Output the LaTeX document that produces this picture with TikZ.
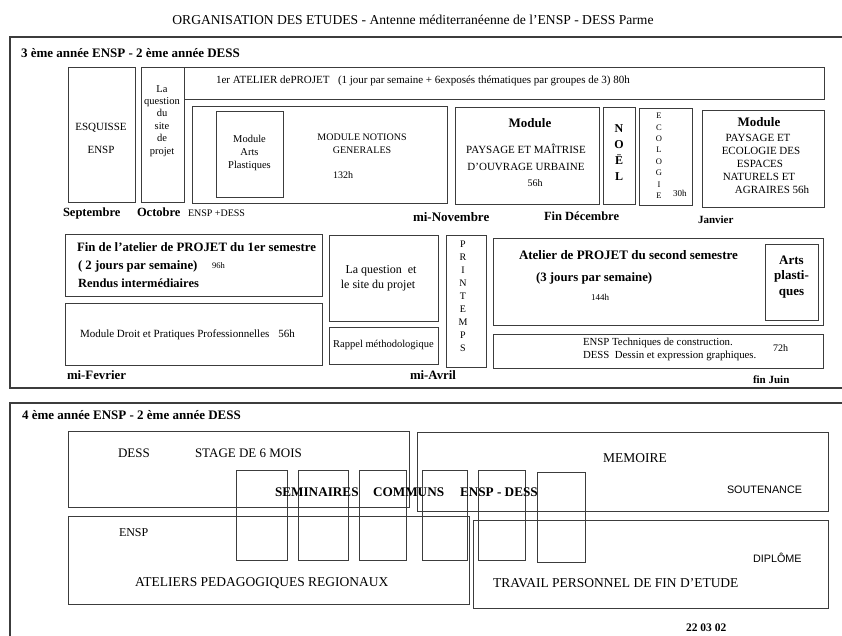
\documentclass[tikz,border=0pt]{standalone}
\usepackage{fontspec}
\setmainfont{Liberation Serif}
\newfontfamily\lsans{Liberation Sans}
\definecolor{linec}{HTML}{3C3C3C}
\newcommand\fsz[1]{\fontsize{#1}{#1}\selectfont}
\tikzset{
  bx/.style={draw=linec, line width=0.85pt, inner sep=0pt, outer sep=0pt},
  framebox/.style={draw=linec, line width=1.9pt, inner sep=0pt, outer sep=0pt},
  lbl/.style={anchor=base west, inner sep=0pt, outer sep=0pt},
  clbl/.style={anchor=base, inner sep=0pt, outer sep=0pt},
}
\newcommand\boxat[6][bx]{\node[#1, minimum width={(#5-#3)*1pt}, minimum height={(#6-#4)*1pt}] (#2) at ({(#3+#5)/2},{(#4+#6)/2}) {};}
\begin{document}
\begin{tikzpicture}[x=1pt,y=-1pt]
\useasboundingbox (0,0) rectangle (842,636);
\clip (0,0) rectangle (842,636);
\fill[white] (0,0) rectangle (842,636);

% title
\node[clbl] (title) at (413,24.5) {\fsz{13.6}ORGANISATION DES ETUDES - Antenne méditerranéenne de l'ENSP - DESS Parme};

% frames
\boxat[framebox]{frameA}{10}{37}{870}{388}
\boxat[framebox]{frameB}{10}{403}{870}{680}

% ---------- frame A
\node[lbl] (hdrA) at (21,57.5) {\fsz{13}\bfseries 3 ème année ENSP - 2 ème année DESS};

\boxat{esq}{68}{67}{135}{202}
\boxat{laq}{141}{67}{184}{202}
\boxat{atel1}{184}{67}{824}{99}
\boxat{notions}{192}{106}{447}{203}
\boxat{artsp}{216}{111}{283}{197}
\boxat{mpau}{455}{107}{599}{204}
\boxat{noel}{603}{107}{635}{204}
\boxat{eco}{639}{108}{692}{205}
\boxat{mpee}{702}{110}{824}{207}

\node[clbl] (esq1) at (101,131) {\fsz{11}ESQUISSE};
\node[clbl] (esq2) at (101,154) {\fsz{11}ENSP};

\foreach \w/\yy [count=\i] in {La/93,question/105,du/117,site/130,de/142,projet/155}
  \node[clbl] (laqt\i) at (162,\yy) {\fsz{10.5}\w};

\node[lbl] (atel1a) at (216,84) {\fsz{11}1er ATELIER dePROJET};
\node[lbl] (atel1b) at (338,84) {\fsz{11}(1 jour par semaine + 6exposés thématiques par groupes de 3) 80h};

\node[clbl] (ap1) at (249.5,143) {\fsz{10.5}Module};
\node[clbl] (ap2) at (249.5,156) {\fsz{10.5}Arts};
\node[clbl] (ap3) at (249.5,169) {\fsz{10.5}Plastiques};

\node[clbl] (mn1) at (362,140.5) {\fsz{10}MODULE NOTIONS};
\node[clbl] (mn2) at (362,153.5) {\fsz{10}GENERALES};
\node[lbl] (mn3) at (333,178.5) {\fsz{10}132h};

\node[clbl] (pm1) at (530,127.5) {\fsz{13}\bfseries Module};
\node[clbl] (pm2) at (526,154) {\fsz{11}PAYSAGE ET MAÎTRISE};
\node[clbl] (pm3) at (526,171) {\fsz{11}D'OUVRAGE URBAINE};
\node[clbl] (pm4) at (535,186.5) {\fsz{10}56h};

\foreach \l/\yy [count=\i] in {N/133,O/149,Ë/165,L/181}
  \node[clbl] (noelt\i) at (619,\yy) {\fsz{12}\bfseries \l};

\foreach \l [count=\i] in {E,C,O,L,O,G,I,E}
  \node[clbl] (ecot\i) at (659,{116+2.8+(\i-1)*11.4}) {\fsz{8.5}\l};
\node[lbl] (eco30) at (673,197) {\fsz{9}30h};

\node[clbl] (pe1) at (759,127) {\fsz{13}\bfseries Module};
\node[clbl] (pe2) at (758,142) {\fsz{11}PAYSAGE ET};
\node[clbl] (pe3) at (761,155) {\fsz{11}ECOLOGIE DES};
\node[clbl] (pe4) at (760,168) {\fsz{11}ESPACES};
\node[clbl] (pe5) at (759,181) {\fsz{11}NATURELS ET};
\node[clbl] (pe6) at (772,194) {\fsz{11}AGRAIRES 56h};

\node[lbl] (sept) at (63,217) {\fsz{12.5}\bfseries Septembre};
\node[lbl] (oct) at (137,217) {\fsz{12.5}\bfseries Octobre};
\node[lbl] (ensdess) at (188,217) {\fsz{10}ENSP +DESS};
\node[lbl] (minov) at (413,222) {\fsz{13}\bfseries mi-Novembre};
\node[lbl] (findec) at (544,221) {\fsz{12.5}\bfseries Fin Décembre};
\node[lbl] (janv) at (698,223) {\fsz{11}\bfseries Janvier};

% row 2
\boxat{fin1}{65}{234}{322}{296}
\boxat{droit}{65}{303}{322}{365}
\boxat{laq2}{329}{235}{438}{321}
\boxat{rappel}{329}{327}{438}{364}
\boxat{print}{446}{235}{486}{367}
\boxat{atel2}{493}{238}{823}{325}
\boxat{arts2}{765}{244}{818}{320}
\boxat{tech}{493}{334}{823}{368}

\node[lbl] (f1a) at (77,251) {\fsz{12.8}\bfseries Fin de l'atelier de PROJET du 1er semestre};
\node[lbl] (f1b) at (78,269) {\fsz{12.8}\bfseries ( 2 jours par semaine)};
\node[lbl] (f1c) at (212,268) {\fsz{8.5}96h};
\node[lbl] (f1d) at (78,287) {\fsz{12.5}\bfseries Rendus intermédiaires};

\node[lbl] (dr) at (80,337) {\fsz{11}Module Droit et Pratiques Professionnelles\hspace{9pt}56h};

\node[clbl] (lq1) at (381,273) {\fsz{12}La question\ \ et};
\node[clbl] (lq2) at (378,288) {\fsz{12}le site du projet};
\node[clbl] (rap) at (383.5,347) {\fsz{10.5}Rappel méthodologique};

\foreach \l [count=\i] in {P,R,I,N,T,E,M,P,S}
  \node[clbl] (prt\i) at (463,{247.5+(\i-1)*13}) {\fsz{10}\l};

\node[lbl] (a2a) at (519,259) {\fsz{13}\bfseries Atelier de PROJET du second semestre};
\node[lbl] (a2b) at (536,281) {\fsz{12.8}\bfseries (3 jours par semaine)};
\node[lbl] (a2c) at (591,300) {\fsz{9}144h};

\node[clbl] (ar1) at (791.5,264) {\fsz{13}\bfseries Arts};
\node[clbl] (ar2) at (791.5,279) {\fsz{13}\bfseries plasti-};
\node[clbl] (ar3) at (791.5,295) {\fsz{13}\bfseries ques};

\node[lbl] (te1) at (583,345) {\fsz{10.8}ENSP Techniques de construction.};
\node[lbl] (te2) at (583,358) {\fsz{10.8}DESS\ \ Dessin et expression graphiques.};
\node[lbl] (te3) at (773,351) {\fsz{10}72h};

\node[lbl] (mifev) at (67,379) {\fsz{12.8}\bfseries mi-Fevrier};
\node[lbl] (miavr) at (410,379) {\fsz{12.8}\bfseries mi-Avril};
\node[lbl] (finjuin) at (753,383) {\fsz{11}\bfseries fin Juin};

% ---------- frame B
\node[lbl] (hdrB) at (22,419) {\fsz{13}\bfseries 4 ème année ENSP - 2 ème année DESS};

\boxat{stage}{68}{431}{409}{507}
\boxat{enspb}{68}{516}{469}{604}
\boxat{memo}{417}{432}{828}{511}
\boxat{trav}{473}{520}{828}{608}
\boxat{sem1}{236}{470}{287}{560}
\boxat{sem2}{298}{470}{348}{560}
\boxat{sem3}{359}{470}{406}{560}
\boxat{sem4}{422}{470}{467}{560}
\boxat{sem5}{478}{470}{525}{560}
\boxat{sem6}{537}{472}{585}{562}

\node[lbl] (dess) at (118,457) {\fsz{13}DESS};
\node[lbl] (stg) at (195,457) {\fsz{13}STAGE DE 6 MOIS};
\node[lbl] (sm1) at (275,496) {\fsz{13.2}\bfseries SEMINAIRES};
\node[lbl] (sm2) at (373,496) {\fsz{13.2}\bfseries COMMUNS};
\node[lbl] (sm3) at (460,496) {\fsz{13.2}\bfseries ENSP - DESS};
\node[lbl] (enspt) at (119,536) {\fsz{12}ENSP};
\node[lbl] (apr) at (135,586) {\fsz{13.5}ATELIERS PEDAGOGIQUES REGIONAUX};
\node[lbl] (mem) at (603,462) {\fsz{13.5}MEMOIRE};
\node[lbl] (sout) at (727,493) {\fsz{10.8}\lsans SOUTENANCE};
\node[lbl] (dipl) at (753,562) {\fsz{10.8}\lsans DIPLÔME};
\node[lbl] (trv) at (493,587) {\fsz{13.5}TRAVAIL PERSONNEL DE FIN D'ETUDE};
\node[lbl] (date) at (686,631) {\fsz{11.5}\bfseries 22 03 02};
\end{tikzpicture}
\end{document}
